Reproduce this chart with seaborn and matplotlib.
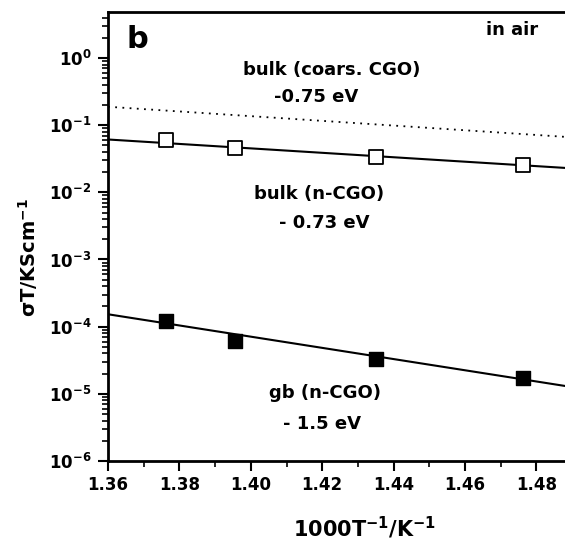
import numpy as np
import pandas as pd
import matplotlib
matplotlib.use("Agg")
import matplotlib.pyplot as plt
import matplotlib.ticker as mticker
import seaborn as sns

# Measured points, 1000/T in K^-1
inv_temp = [1.3762, 1.3956, 1.4351, 1.4763]
bulk_n_cgo = [0.0602, 0.0453, 0.0333, 0.0256]     # open squares
gb_n_cgo = [1.22e-4, 6.21e-5, 3.28e-5, 1.75e-5]   # filled squares

# Arrhenius fit lines, evaluated at the ends of the x range
fit_x = [1.36, 1.488]
fit_bulk_coarse = [0.188, 0.067]
fit_bulk_n = [0.0612, 0.0231]
fit_gb_n = [1.53e-4, 1.31e-5]

pts = pd.DataFrame({
    "x": inv_temp * 2,
    "y": bulk_n_cgo + gb_n_cgo,
    "series": ["bulk"] * 4 + ["gb"] * 4,
})
fits = pd.DataFrame({
    "x": fit_x * 3,
    "y": fit_bulk_coarse + fit_bulk_n + fit_gb_n,
    "series": ["coarse"] * 2 + ["bulk"] * 2 + ["gb"] * 2,
})

sns.set_theme(style="ticks")
plt.rcParams["font.family"] = ["DejaVu Sans"]
plt.rcParams["font.weight"] = "bold"
plt.rcParams["mathtext.fontset"] = "dejavusans"
plt.rcParams["mathtext.default"] = "bf"
plt.rcParams["text.color"] = "black"
plt.rcParams["axes.labelcolor"] = "black"

fig = plt.figure(figsize=(5.65, 5.44), dpi=100)
ax = fig.add_axes([108 / 565, 1 - 461 / 544, 457 / 565, 449 / 544])

# Fit lines
sns.lineplot(data=fits[fits.series == "coarse"], x="x", y="y", ax=ax,
             color="black", lw=1.3, linestyle=(0, (1, 3)))
sns.lineplot(data=fits[fits.series == "bulk"], x="x", y="y", ax=ax,
             color="black", lw=1.5)
sns.lineplot(data=fits[fits.series == "gb"], x="x", y="y", ax=ax,
             color="black", lw=1.5)

# Data points
sns.scatterplot(data=pts[pts.series == "bulk"], x="x", y="y", ax=ax,
                marker="s", s=110, facecolor="white", edgecolor="black",
                linewidth=1.3, zorder=5)
sns.scatterplot(data=pts[pts.series == "gb"], x="x", y="y", ax=ax,
                marker="s", s=110, color="black", edgecolor="black",
                linewidth=1.0, zorder=5)

ax.set_yscale("log")
ax.set_xlim(1.36, 1.488)
ax.set_ylim(1e-6, 4.84)

ax.xaxis.set_major_locator(mticker.MultipleLocator(0.02))
ax.xaxis.set_minor_locator(mticker.MultipleLocator(0.01))
ax.xaxis.set_major_formatter(mticker.FormatStrFormatter("%.2f"))
ax.yaxis.set_major_locator(mticker.LogLocator(base=10, numticks=20))
ax.yaxis.set_minor_locator(mticker.LogLocator(base=10, subs=np.arange(2, 10), numticks=20))
ax.yaxis.set_major_formatter(mticker.FuncFormatter(
    lambda v, p: r"$\mathbf{10^{%d}}$" % int(round(np.log10(v)))))
ax.yaxis.set_minor_formatter(mticker.NullFormatter())

ax.tick_params(axis="both", which="major", direction="out", length=7,
               width=1.5, labelsize=12, colors="black")
ax.tick_params(axis="both", which="minor", direction="out", length=4,
               width=1.2, colors="black")
ax.tick_params(axis="x", pad=4)
ax.tick_params(axis="y", pad=5)
for lab in ax.get_xticklabels() + ax.get_yticklabels():
    lab.set_fontweight("bold")

for side in ("left", "bottom", "top"):
    ax.spines[side].set_linewidth(2.0)
    ax.spines[side].set_color("black")
ax.spines["right"].set_visible(False)

ax.set_xlabel(r"1000T$^{-1}$/K$^{-1}$", fontsize=15, fontweight="bold",
              va="center", color="black")
ax.set_ylabel(r"σT/KScm$^{-1}$", fontsize=14, fontweight="bold",
              va="center", color="black")
ax.xaxis.set_label_coords(0.562, -0.149)
ax.yaxis.set_label_coords(-0.175, 0.454)

tx = dict(transform=ax.transAxes, ha="center", va="center",
          fontweight="bold", color="black")
ax.text(0.065, 0.939, "b", fontsize=22, **tx)
ax.text(0.884, 0.960, "in air", fontsize=13, **tx)
ax.text(0.490, 0.871, "bulk (coars. CGO)", fontsize=13, **tx)
ax.text(0.455, 0.811, "-0.75 eV", fontsize=13, **tx)
ax.text(0.462, 0.595, "bulk (n-CGO)", fontsize=13, **tx)
ax.text(0.473, 0.530, "- 0.73 eV", fontsize=13, **tx)
ax.text(0.475, 0.151, "gb (n-CGO)", fontsize=13, **tx)
ax.text(0.468, 0.082, "- 1.5 eV", fontsize=13, **tx)

fig.savefig("out.png", dpi=100)
